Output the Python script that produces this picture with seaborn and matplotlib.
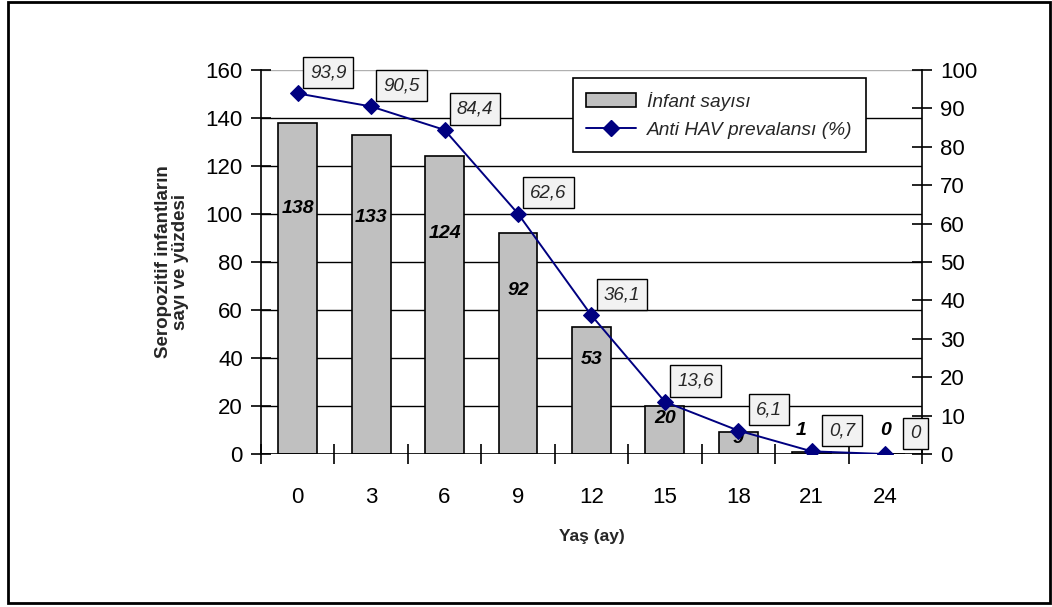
import matplotlib
matplotlib.use("Agg")
import matplotlib.pyplot as plt
import seaborn as sns
import pandas as pd
from matplotlib.patches import Rectangle, Patch
from matplotlib.lines import Line2D

ages = ["0", "3", "6", "9", "12", "15", "18", "21", "24"]
infant_counts = [138, 133, 124, 92, 53, 20, 9, 1, 0]
prevalence = [93.9, 90.5, 84.4, 62.6, 36.1, 13.6, 6.1, 0.7, 0.0]
prev_labels = ["93,9", "90,5", "84,4", "62,6", "36,1", "13,6", "6,1", "0,7", "0"]

sns.set_theme(style="white")
plt.rcParams["font.family"] = ["Liberation Sans", "DejaVu Sans"]

df = pd.DataFrame({"age": ages, "count": infant_counts, "prev": prevalence})

fig = plt.figure(figsize=(10.52, 6.07), dpi=100)
ax = fig.add_axes([0.248, 0.252, 0.6284, 0.6327])

sns.barplot(data=df, x="age", y="count", ax=ax, color="#C0C0C0",
            edgecolor="black", linewidth=1.2, width=0.53, saturation=1)
ax.set_ylim(0, 160)
ax.set_xlim(-0.5, len(ages) - 0.5)
ax.set_yticks(range(0, 161, 20))
for yv in range(20, 160, 20):
    ax.axhline(yv, color="black", lw=1.0, zorder=0)
ax.axhline(160, color="#B0B0B0", lw=1.0, zorder=0)

for s in ["top", "right", "bottom"]:
    ax.spines[s].set_visible(False)
ax.spines["left"].set_color("black")
ax.spines["left"].set_linewidth(1.2)
ax.axhline(0, color="black", lw=1.2, zorder=3)

ax.tick_params(axis="y", which="both", direction="inout", length=14, width=1.2,
               labelsize=16, colors="black", left=True, pad=6)
ax.tick_params(axis="x", bottom=False, labelsize=16, pad=18, colors="black")
ax.set_xticks(range(len(ages)), ages)
# category boundary ticks
ax.set_xticks([i - 0.5 for i in range(len(ages) + 1)], minor=True)
ax.tick_params(axis="x", which="minor", bottom=True, direction="inout", length=14, width=1.2, color="black")

ax.set_xlabel("Yaş (ay)", fontsize=12.5, fontweight="bold", labelpad=15)
ax.set_ylabel("Seropozitif infantların\nsayı ve yüzdesi", fontsize=13.5, fontweight="bold",
              labelpad=12, linespacing=1.0)

for i, v in enumerate(infant_counts):
    ly = v * 0.74 if v > 5 else 10
    dx = -0.15 if 0 < v <= 5 else 0
    ax.text(i + dx, ly, str(v), ha="center", va="center", fontsize=14,
            fontweight="bold", fontstyle="italic", color="black", zorder=5)

ax2 = ax.twinx()
sns.lineplot(data=df, x="age", y="prev", ax=ax2, color="#000080", lw=1.4,
             marker="D", markersize=8.5, markeredgecolor="#000080", sort=False)
ax2.set_ylim(0, 100)
ax2.set_yticks(range(0, 101, 10))
ax2.set_ylabel("")
ax2.set_xlabel("")
for s in ["top", "left", "bottom"]:
    ax2.spines[s].set_visible(False)
ax2.spines["right"].set_color("black")
ax2.spines["right"].set_linewidth(1.2)
ax2.tick_params(axis="y", direction="inout", length=14, width=1.2, labelsize=16,
                colors="black", right=True, pad=6)
ax2.grid(False)

for i, (v, lab) in enumerate(zip(prevalence, prev_labels)):
    ax2.annotate(lab, xy=(i, v), xytext=(22, 15), textcoords="offset points",
                 ha="center", va="center", fontsize=13.5, fontstyle="italic",
                 bbox=dict(boxstyle="square,pad=0.38", fc="#F2F2F2", ec="black", lw=1.0),
                 zorder=6)

handles = [Patch(facecolor="#C0C0C0", edgecolor="black", lw=1.2),
           Line2D([0], [0], color="#000080", lw=1.4, marker="D", markersize=8)]
leg = ax2.legend(handles, ["İnfant sayısı", "Anti HAV prevalansı (%)"],
                 loc="upper left", bbox_to_anchor=(0.457, 1.003), frameon=True,
                 fancybox=False, edgecolor="black", framealpha=1,
                 prop={"size": 13.8, "style": "italic"}, handlelength=2.6,
                 borderpad=0.7, labelspacing=0.55, handleheight=0.7, handletextpad=0.6)
leg.get_frame().set_linewidth(1.2)

fig.patches.append(Rectangle((0.008, 0.006), 0.99, 0.99, transform=fig.transFigure,
                             fill=False, ec="black", lw=2))

fig.savefig("out.png", dpi=100)
